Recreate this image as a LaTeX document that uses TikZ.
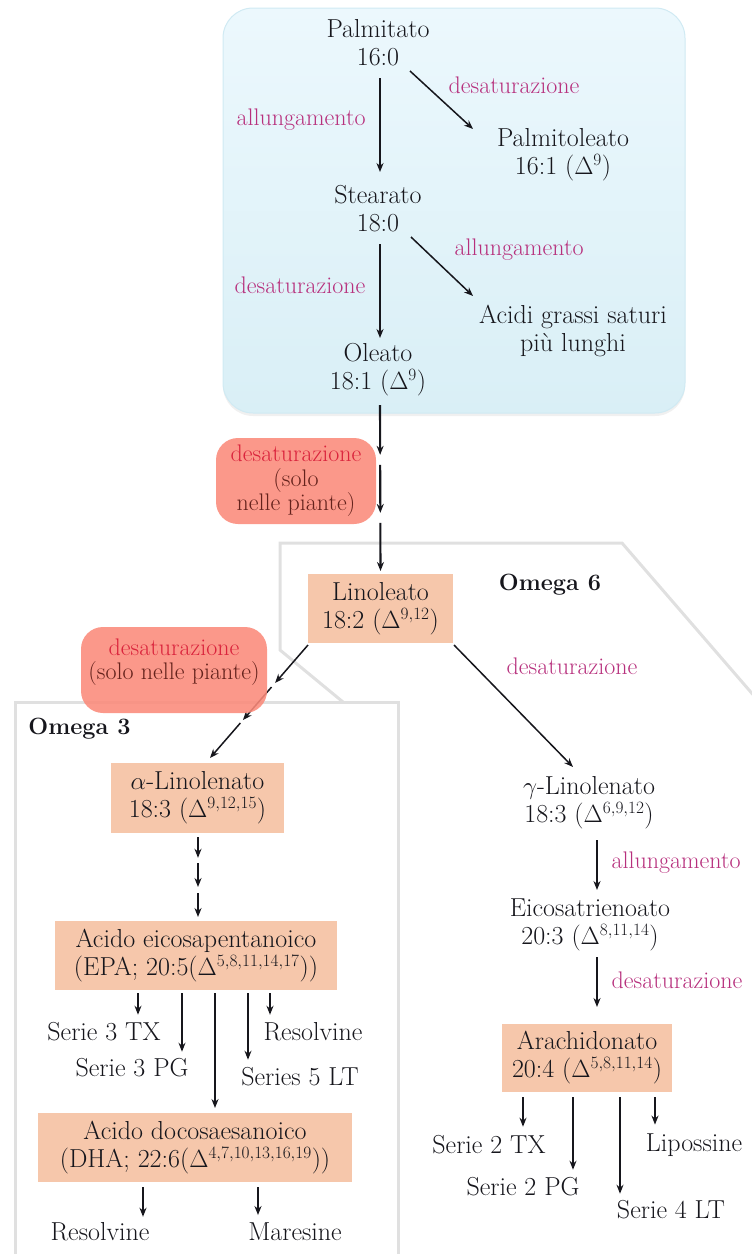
\documentclass[tikz,border=0pt]{standalone}
\usepackage{tikz}
\usetikzlibrary{positioning,arrows.meta,calc,shadows}

\definecolor{ink}{RGB}{22,22,28}
\definecolor{lblcol}{RGB}{183,48,125}
\definecolor{peach}{RGB}{246,199,171}
\definecolor{redfill}{RGB}{251,138,122}
\definecolor{redtext}{RGB}{218,35,60}
\definecolor{browntext}{RGB}{100,34,28}
\definecolor{framegray}{RGB}{224,224,224}
\definecolor{bluetop}{RGB}{236,248,253}
\definecolor{bluebot}{RGB}{217,239,246}
\definecolor{bluedraw}{RGB}{208,234,243}

\begin{document}
\begin{tikzpicture}[x=1pt, y=-1pt, font=\fontsize{26}{28}\selectfont]
	\tikzset{
		fatty/.style={align=center, text=ink, inner sep=0pt, outer sep=0pt},
		mybox/.style={fatty, fill=peach, minimum width=#1, minimum height=69pt},
		mylabel/.style={text=lblcol, inner sep=0pt, font=\fontsize{24}{28}\selectfont},
		omega/.style={text=ink, inner sep=0pt, font=\fontsize{23.5}{28}\selectfont\bfseries},
		plants/.style={fill=redfill, fill opacity=0.88, text opacity=1, rounded corners=22pt, align=center, text=browntext, font=\fontsize{24}{24.5}\selectfont},
		myarrow/.style={-{Stealth[length=9pt,width=7pt]}, draw=ink, line width=1.5pt},
		myarrow1/.style={myarrow, line width=2.1pt},
		myarrow2/.style={myarrow, line width=2.8pt},
		frame/.style={draw=framegray, line width=3pt}
	}
	\useasboundingbox (0,0) rectangle (752,1254);
	\clip (0,0) rectangle (752,1254);

	% blue area and omega frames
	\node[draw=bluedraw, line width=1pt, rounded corners=30pt, top color=bluetop, bottom color=bluebot, minimum width=462pt, minimum height=405pt, drop shadow={opacity=0.12, shadow xshift=0pt, shadow yshift=-3pt}] (upper) at (454,210.5) {};
	\draw[frame] (343,702) -- (280,650) -- (280,543) -- (622,543) -- (800,749);
	\draw[frame] (15,1270) -- (15,702) -- (398,702) -- (398,1270);

	\node[fatty] (palmitato) at (378,43) {Palmitato\\16:0};
	\node[fatty] (palmitoleato) at (563,155) {Palmitoleato\\16:1 ($\Delta^9$)};
	\node[fatty] (stearato) at (378,209) {Stearato\\18:0};
	\node[fatty] (acidi) at (573,331) {Acidi grassi saturi\\più lunghi};
	\node[fatty] (oleato) at (378,370) {Oleato\\18:1 ($\Delta^9$)};
	\node[mybox=145pt] (linoleato) at (380.5,608.5) {Linoleato\\18:2 ($\Delta^{9,12}$)};
	\node[mybox=173pt, minimum height=70pt] (alinolenato) at (197.5,798) {$\alpha$-Linolenato\\18:3 ($\Delta^{9,12,15}$)};
	\node[mybox=282pt] (epa) at (196,955.5) {Acido eicosapentanoico\\(EPA; 20:5($\Delta^{5,8,11,14,17}$))};
	\node[mybox=314pt] (dha) at (195,1147.5) {Acido docosaesanoico\\(DHA; 22:6($\Delta^{4,7,10,13,16,19}$))};
	\node[fatty] (glinolenato) at (589,803) {$\gamma$-Linolenato\\18:3 ($\Delta^{6,9,12}$)};
	\node[fatty] (eicosa) at (590,925) {Eicosatrienoato\\20:3 ($\Delta^{8,11,14}$)};
	\node[mybox=170pt, minimum height=68pt] (arachidonato) at (587,1058) {Arachidonato\\20:4 ($\Delta^{5,8,11,14}$)};

	\node[fatty] (s3tx) at (104,1032) {Serie 3 TX};
	\node[fatty] (s3pg) at (132,1068) {Serie 3 PG};
	\node[fatty] (resolvine1) at (313,1032) {Resolvine};
	\node[fatty] (s5lt) at (300,1077) {Series 5 LT};
	\node[fatty] (resolvine2) at (100,1232) {Resolvine};
	\node[fatty] (maresine) at (295,1232) {Maresine};
	\node[fatty] (s2tx) at (489,1145) {Serie 2 TX};
	\node[fatty] (s2pg) at (523,1187) {Serie 2 PG};
	\node[fatty] (s4lt) at (671,1210) {Serie 4 LT};
	\node[fatty] (lipossine) at (694,1145) {Lipossine};

	\node[mylabel] (des1) at (514,85) {desaturazione};
	\node[mylabel] (all1) at (301,120) {allungamento};
	\node[mylabel] (all2) at (519,250) {allungamento};
	\node[mylabel] (des2) at (300,285) {desaturazione};
	\node[mylabel] (des3) at (572,666) {desaturazione};
	\node[mylabel] (all3) at (676,863) {allungamento};
	\node[mylabel] (des4) at (677,980) {desaturazione};
	\node[omega] (omega6) at (550,585) {Omega 6};
	\node[omega] (omega3) at (79.5,729) {Omega 3};

	% upper box
	\draw[myarrow1] ($(palmitato)+(2,35)$) -- ($(stearato)+(2,-37)$);
	\draw[myarrow] ($(palmitato)+(32,28)$) -- ($(palmitoleato)+(-90,-26)$);
	\draw[myarrow1] ($(stearato)+(2,35)$) -- ($(oleato)+(2,-32)$);
	\draw[myarrow] ($(stearato)+(33,28)$) -- ($(acidi)+(-100,-35)$);

	% oleato -> linoleato
	\coordinate (ol1) at ($(oleato)+(2,35)$);
	\coordinate (ol2) at ($(linoleato.north)+(0,-3)$);
	\draw[myarrow1] (ol1) -- ($(ol1)!.3!(ol2)$);
	\draw[myarrow1] ($(ol1)!.36!(ol2)$) -- ($(ol1)!.65!(ol2)$);
	\draw[myarrow1] ($(ol1)!.71!(ol2)$) -- (ol2);

	% linoleato -> alfa / gamma
	\coordinate (la1) at ($(linoleato.south west)+(0,2)$);
	\coordinate (la2) at ($(alinolenato.north)+(12.5,-5)$);
	\draw[myarrow] (la1) -- ($(la1)!.336!(la2)$);
	\draw[myarrow] ($(la1)!.372!(la2)$) -- ($(la1)!.664!(la2)$);
	\draw[myarrow] ($(la1)!.69!(la2)$) -- (la2);
	\draw[myarrow] ($(linoleato.south east)+(1,2)$) -- ($(glinolenato)+(-16,-36)$);

	% alfa -> EPA
	\coordinate (ae1) at ($(alinolenato.south)+(0.5,4)$);
	\coordinate (ae2) at ($(ae1 |- epa.north)+(0,-4)$);
	\draw[myarrow1] (ae1) -- ($(ae1)!.26!(ae2)$);
	\draw[myarrow1] ($(ae1)!.325!(ae2)$) -- ($(ae1)!.625!(ae2)$);
	\draw[myarrow1] ($(ae1)!.7!(ae2)$) -- (ae2);

	% gamma -> arachidonato
	\draw[myarrow2] ($(glinolenato)+(8,37)$) -- ($(eicosa)+(7,-35)$);
	\draw[myarrow2] ($(eicosa)+(7,32)$) -- ($(arachidonato.north)+(10,-17)$);

	% EPA, DHA, arachidonato products
	\draw[myarrow1] ($(epa.south)+(-58,3)$) -- ($(s3tx.north)+(34,-8)$);
	\draw[myarrow1] ($(epa.south)+(-14,3)$) -- ($(s3pg.north)+(50,-7)$);
	\draw[myarrow1] ($(epa.south)+(19,3)$) -- ($(dha.north)+(20,-5)$);
	\draw[myarrow1] ($(epa.south)+(52,3)$) -- ($(s5lt.north)+(-52,-8)$);
	\draw[myarrow1] ($(epa.south)+(74,3)$) -- ($(resolvine1.north)+(-43,-8)$);
	\draw[myarrow1] ($(dha.south)+(-52,5)$) -- ($(resolvine2.north)+(43,-6)$);
	\draw[myarrow1] ($(dha.south)+(63,5)$) -- ($(maresine.north)+(-37,-8)$);
	\draw[myarrow1] ($(arachidonato.south)+(-64,5)$) -- ($(s2tx.north)+(34,-9)$);
	\draw[myarrow1] ($(arachidonato.south)+(-14,5)$) -- ($(s2pg.north)+(50,-8)$);
	\draw[myarrow1] ($(arachidonato.south)+(33,5)$) -- ($(s4lt.north)+(-51,-7)$);
	\draw[myarrow1] ($(arachidonato.south)+(68,5)$) -- ($(lipossine.north)+(-39,-9)$);

	% only in plants
	\node[plants, minimum width=160pt, minimum height=86pt] (plants1) at (296,481) {\textcolor{redtext}{desaturazione}\\(solo\\nelle piante)};
	\node[plants, minimum width=186pt, minimum height=86pt] (plants2) at (174,670) {};
	\node[fatty, text=browntext, font=\fontsize{24}{24}\selectfont] (plants2txt) at ($(plants2)+(0,-7.5)$) {\textcolor{redtext}{desaturazione}\\(solo nelle piante)};
\end{tikzpicture}
\end{document}
